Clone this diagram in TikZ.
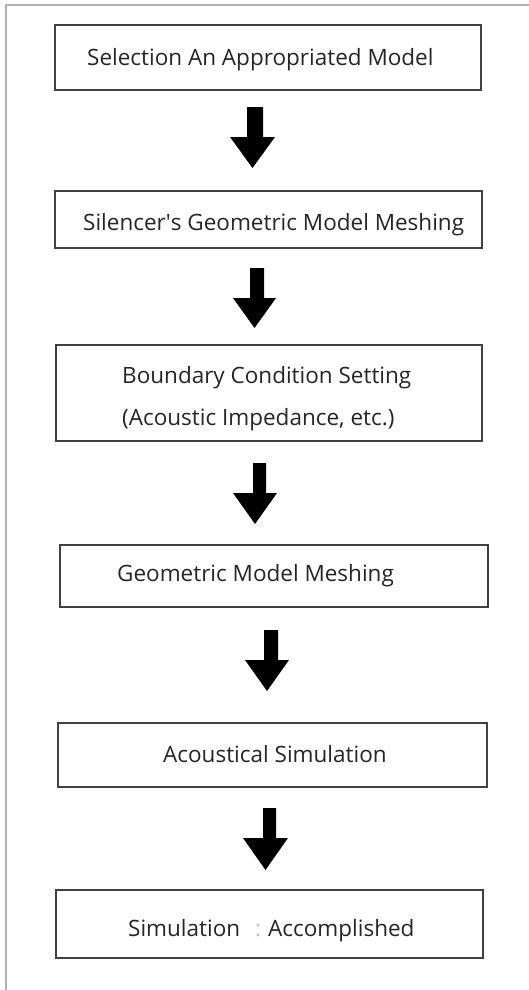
\documentclass[tikz,border=0pt]{standalone}
\usepackage{fontspec}
\setmainfont{Open Sans}
\begin{document}
\begin{tikzpicture}[x=1pt,y=-1pt,
  stepbox/.style={draw=black!75,line width=1.4pt,fill=none,inner sep=0pt},
  txt/.style={font=\fontsize{22.5}{27}\selectfont,text=black!85,inner sep=0pt,
    text height=16pt,text depth=0pt,anchor=west},
  frameline/.style={draw=black!30,line width=1.2pt}]
\useasboundingbox (0,0) rectangle (529,990);
\fill[white] (0,0) rectangle (529,990);
\draw[frameline] (529,5) -- (6,5) -- (6,990);
% boxes
\node[stepbox,minimum width=426pt,minimum height=65pt] (b1) at (268,57.5) {};
\node[stepbox,minimum width=427pt,minimum height=57pt] (b2) at (268.5,219.5) {};
\node[stepbox,minimum width=426pt,minimum height=96pt] (b3) at (269,393) {};
\node[stepbox,minimum width=428pt,minimum height=62pt] (b4) at (274,576) {};
\node[stepbox,minimum width=429pt,minimum height=64pt] (b5) at (272.5,755) {};
\node[stepbox,minimum width=427pt,minimum height=68pt] (b6) at (269.5,924) {};
% texts
\node[txt] (t1) at (87,58) {Selection An Appropriated Model};
\node[txt] (t2) at (83,222) {Silencer\textquotesingle s Geometric Model Meshing};
\node[txt] (t3a) at (122,375) {Boundary Condition Setting};
\node[txt] (t3b) at (122,417) {(Acoustic Impedance, etc.)};
\node[txt] (t4) at (117,573) {Geometric Model Meshing};
\node[txt] (t5) at (163,754) {Acoustical Simulation};
\node[txt] (t6) at (128,928) {Simulation};
\node[txt,text=black!25] (t6c) at (255,928) {:};
\node[txt] (t6b) at (268,928) {Accomplished};
% block arrows
\newcommand\blockarrow[7]{%
  \fill[black] (#1,#4) -- (#2,#4) -- (#2,#5) -- (#7,#5) -- ({(#3+#7)/2},#6) -- (#3,#5) -- (#1,#5) -- cycle;}
% args: shaft left, shaft right, head left, top y, head start y, tip y, head right
\blockarrow{247}{263}{230}{107}{137}{168}{275}
\blockarrow{250}{264}{233}{268}{298}{328}{276}
\blockarrow{253}{266}{233}{463}{493}{524}{277}
\blockarrow{264}{278}{245}{630}{660}{691}{289}
\blockarrow{263}{276}{243}{808}{838}{870}{288}
\end{tikzpicture}
\end{document}
